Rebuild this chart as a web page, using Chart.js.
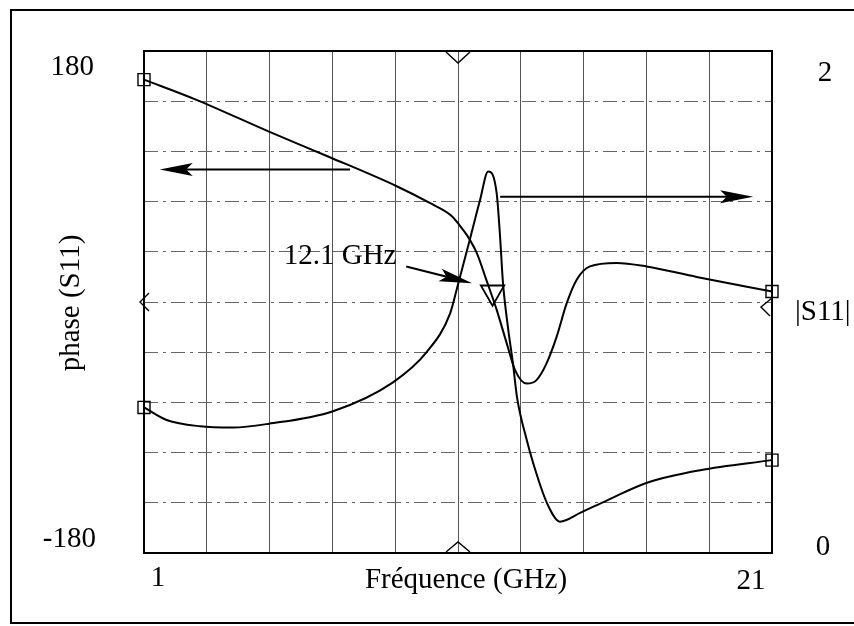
<!DOCTYPE html>
<html>
<head>
<meta charset="utf-8">
<script src="https://cdn.jsdelivr.net/npm/chart.js@4/dist/chart.umd.min.js"></script>
<style>
  html, body { margin: 0; padding: 0; background: #fff; }
</style>
</head>
<body>
<canvas id="s11Chart" width="854" height="626"></canvas>
<script>
// Axis ranges and the tick labels printed at their ends
const freqRange = [1, 21];
const phaseRange = [-180, 180];
const magRange = [0, 2];
const freqTickLabels = ['1', '21'];
const phaseTickLabels = ['180', '-180'];
const magTickLabels = ['2', '0'];

// phase(S11) in degrees
const phaseFreq = [1.0, 2.67, 5.0, 6.9, 9.05, 10.1, 10.78, 11.17, 11.38, 11.6, 11.9, 12.23, 12.55, 12.82, 13.19, 13.5, 13.82, 14.14, 14.46, 14.78, 15.2, 16.05, 17.0, 18.6, 21.0];
const phaseDeg = [159.5, 145, 122, 104, 83, 71, 62, 51.5, 44.5, 35, 16, -5.5, -29.5, -49, -58.5, -56, -44, -25, -1, 16, 25.5, 28, 25.5, 18, 7.5];

// |S11|
const magFreq = [1.0, 1.72, 2.78, 3.83, 4.98, 7.02, 8.93, 10.0, 10.75, 11.0, 11.38, 11.7, 11.96, 12.23, 12.34, 12.43, 12.59, 12.75, 12.88, 13.19, 13.39, 13.83, 14.25, 14.89, 15.75, 17.02, 18.71, 21.0];
const magValues = [0.58, 0.53, 0.505, 0.5, 0.515, 0.565, 0.68, 0.8, 0.955, 1.07, 1.25, 1.405, 1.52, 1.435, 1.26, 1.08, 0.9, 0.755, 0.62, 0.45, 0.36, 0.2, 0.125, 0.16, 0.21, 0.28, 0.33, 0.37];

// marker placed on the phase curve at 12.1 GHz
const markerFreq = [12.1];
const markerPhase = [7];
const markerLabel = '12.1 GHz';

const FONT = '"Liberation Serif", "Times New Roman", serif';

function toPoints(xs, ys) {
    return xs.map((x, i) => ({ x: x, y: ys[i] }));
}

// hollow squares only on the first and last sample
function endSquares(ctx) {
    const n = ctx.dataset.data.length;
    return (ctx.dataIndex === 0 || ctx.dataIndex === n - 1) ? 8.5 : 0;
}

function arrow(ctx, x1, y1, x2, y2) {
    const ang = Math.atan2(y2 - y1, x2 - x1);
    const len = 33, half = 6.5;
    ctx.beginPath();
    ctx.moveTo(x1, y1);
    ctx.lineTo(x2 - Math.cos(ang) * 20, y2 - Math.sin(ang) * 20);
    ctx.stroke();
    ctx.save();
    ctx.translate(x2, y2);
    ctx.rotate(ang);
    ctx.beginPath();
    ctx.moveTo(0, 0);
    ctx.lineTo(-len, -half);
    ctx.lineTo(-len * 0.8, 0);
    ctx.lineTo(-len, half);
    ctx.closePath();
    ctx.fill();
    ctx.restore();
}

// frame, axis texts, end markers and the annotation arrows
const decorations = {
    id: 'decorations',
    afterDatasetsDraw(chart) {
        const ctx = chart.ctx;
        const ca = chart.chartArea;
        const sx = chart.scales.x, sy = chart.scales.y, sy1 = chart.scales.y1;
        ctx.save();
        ctx.strokeStyle = '#000';
        ctx.fillStyle = '#000';

        // outer frame (right side runs off the page)
        ctx.lineWidth = 2;
        ctx.strokeRect(11, 10, 900, 613);
        // plot border
        ctx.strokeRect(ca.left, ca.top, ca.right - ca.left, ca.bottom - ca.top);

        // mid-scale markers on the four sides
        ctx.lineWidth = 1.4;
        const xm = sx.getPixelForValue((freqRange[0] + freqRange[1]) / 2);
        ctx.beginPath();
        ctx.moveTo(xm - 12, ca.top + 1); ctx.lineTo(xm, ca.top + 12); ctx.lineTo(xm + 12, ca.top + 1);
        ctx.moveTo(xm - 12, ca.bottom - 1); ctx.lineTo(xm, ca.bottom - 11); ctx.lineTo(xm + 12, ca.bottom - 1);
        const yl = sy.getPixelForValue(0);
        ctx.moveTo(ca.left + 5, yl - 9); ctx.lineTo(ca.left - 4, yl); ctx.lineTo(ca.left + 5, yl + 9);
        const yr = sy1.getPixelForValue(1) + 5;
        ctx.moveTo(ca.right, yr - 9); ctx.lineTo(ca.right - 11, yr); ctx.lineTo(ca.right - 2, yr + 9);
        ctx.stroke();

        // tick labels
        ctx.font = '29px ' + FONT;
        ctx.textBaseline = 'middle';
        ctx.textAlign = 'right';
        ctx.fillText(phaseTickLabels[0], ca.left - 50, sy.getPixelForValue(phaseRange[1]) + 16);
        ctx.fillText(phaseTickLabels[1], ca.left - 48, sy.getPixelForValue(phaseRange[0]) - 14);
        ctx.textAlign = 'center';
        ctx.fillText(magTickLabels[0], ca.right + 53, sy1.getPixelForValue(magRange[1]) + 22);
        ctx.fillText(magTickLabels[1], ca.right + 51, sy1.getPixelForValue(magRange[0]) - 6);
        ctx.fillText(freqTickLabels[0], sx.getPixelForValue(freqRange[0]) + 14, ca.bottom + 25);
        ctx.fillText(freqTickLabels[1], sx.getPixelForValue(freqRange[1]) - 21, ca.bottom + 28);

        // axis titles
        ctx.fillText('Fréquence (GHz)', (ca.left + ca.right) / 2 + 8, ca.bottom + 27);
        ctx.textAlign = 'left';
        ctx.fillText('|S11|', ca.right + 23, sy1.getPixelForValue(1) + 10);
        ctx.save();
        ctx.translate(ca.left - 73, (ca.top + ca.bottom) / 2 + 1);
        ctx.rotate(-Math.PI / 2);
        ctx.textAlign = 'center';
        ctx.fillText('phase (S11)', 0, 0);
        ctx.restore();

        // arrows pointing at the axis each curve belongs to
        ctx.lineWidth = 2;
        arrow(ctx, sx.getPixelForValue(7.56), sy.getPixelForValue(95), sx.getPixelForValue(1.5), sy.getPixelForValue(95));
        arrow(ctx, sx.getPixelForValue(12.34), sy.getPixelForValue(75.5), sx.getPixelForValue(20.4), sy.getPixelForValue(75.5));

        // 12.1 GHz label and its arrow
        ctx.textAlign = 'left';
        ctx.fillText(markerLabel, sx.getPixelForValue(5.45), sy.getPixelForValue(33));
        arrow(ctx, sx.getPixelForValue(9.35), sy.getPixelForValue(25.5), sx.getPixelForValue(11.45), sy.getPixelForValue(13.5));

        ctx.restore();
    }
};

const ctxChart = document.getElementById('s11Chart').getContext('2d');

new Chart(ctxChart, {
    type: 'line',
    data: {
        datasets: [
            {
                label: 'phase (S11)',
                data: toPoints(phaseFreq, phaseDeg),
                yAxisID: 'y',
                borderColor: '#000',
                borderWidth: 2,
                cubicInterpolationMode: 'monotone',
                pointStyle: 'rect',
                pointRadius: endSquares,
                pointBorderColor: '#000',
                pointBackgroundColor: 'rgba(0,0,0,0)',
                pointBorderWidth: 1.4,
                clip: 12
            },
            {
                label: '|S11|',
                data: toPoints(magFreq, magValues),
                yAxisID: 'y1',
                borderColor: '#000',
                borderWidth: 2,
                cubicInterpolationMode: 'monotone',
                pointStyle: 'rect',
                pointRadius: endSquares,
                pointBorderColor: '#000',
                pointBackgroundColor: 'rgba(0,0,0,0)',
                pointBorderWidth: 1.4,
                clip: 12
            },
            {
                label: markerLabel,
                data: toPoints(markerFreq, markerPhase),
                yAxisID: 'y',
                showLine: false,
                pointStyle: 'triangle',
                rotation: 180,
                pointRadius: 13.5,
                pointBorderColor: '#000',
                pointBackgroundColor: 'rgba(0,0,0,0)',
                pointBorderWidth: 1.8
            }
        ]
    },
    options: {
        responsive: false,
        animation: false,
        layout: {
            padding: { left: 144, right: 82, top: 51, bottom: 73 }
        },
        scales: {
            x: {
                type: 'linear',
                min: freqRange[0],
                max: freqRange[1],
                ticks: { display: false, stepSize: 2 },
                grid: { color: '#555', lineWidth: 1, drawTicks: false },
                border: { display: false }
            },
            y: {
                position: 'left',
                min: phaseRange[0],
                max: phaseRange[1],
                ticks: { display: false, stepSize: 36 },
                grid: { color: '#666', lineWidth: 1, drawTicks: false },
                border: { display: false, dash: [14, 5, 3, 5] }
            },
            y1: {
                position: 'right',
                min: magRange[0],
                max: magRange[1],
                ticks: { display: false, stepSize: 0.2 },
                grid: { drawOnChartArea: false, drawTicks: false },
                border: { display: false }
            }
        },
        plugins: {
            legend: { display: false },
            tooltip: { enabled: false }
        }
    },
    plugins: [decorations]
});
</script>
</body>
</html>
